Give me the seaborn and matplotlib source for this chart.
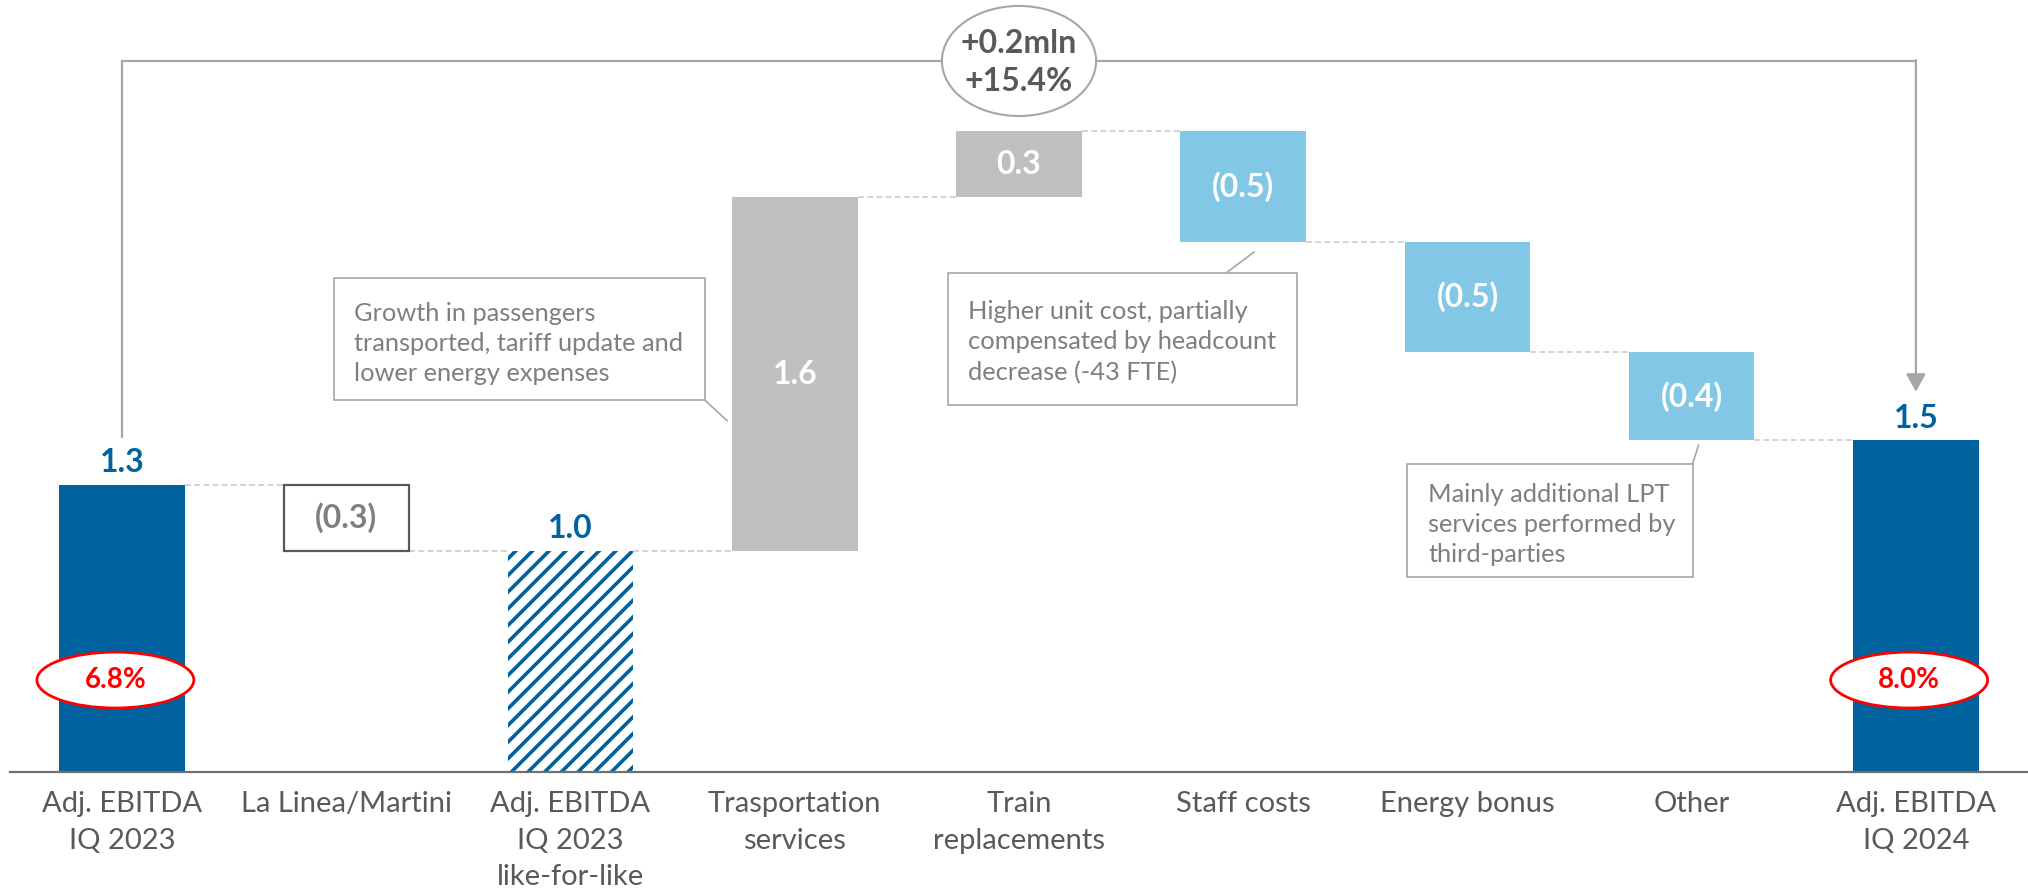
import numpy as np
import pandas as pd
import matplotlib
matplotlib.use("Agg")
import matplotlib.pyplot as plt
import seaborn as sns
from matplotlib.patches import Ellipse, Rectangle

# ---------------- data ----------------
categories = ["Adj. EBITDA\nIQ 2023", "La Linea/Martini", "Adj. EBITDA\nIQ 2023\nlike-for-like",
              "Trasportation\nservices", "Train\nreplacements", "Staff costs", "Energy bonus",
              "Other", "Adj. EBITDA\nIQ 2024"]
values = [1.3, -0.3, 1.0, 1.6, 0.3, -0.5, -0.5, -0.4, 1.5]
kinds = ["total", "delta", "total", "delta", "delta", "delta", "delta", "delta", "total"]
value_labels = ["1.3", "(0.3)", "1.0", "1.6", "0.3", "(0.5)", "(0.5)", "(0.4)", "1.5"]
margin_labels = ["6.8%", "8.0%"]
margin_bars = [0, 8]
bridge_labels = ["+0.2mln", "+15.4%"]
notes = ["Growth in passengers\ntransported, tariff update and\nlower energy expenses",
         "Higher unit cost, partially\ncompensated by headcount\ndecrease (-43 FTE)",
         "Mainly additional LPT\nservices performed by\nthird-parties"]

# ---------------- style ----------------
DARK_BLUE = "#00629F"
LIGHT_BLUE = "#83C7E6"
GREY_BAR = "#BFBFBF"
TXT = "#595959"
NOTE_TXT = "#7F7F7F"
LINE_GREY = "#A6A6A6"

sns.set_style("white")
plt.rcParams["font.family"] = ["Lato", "DejaVu Sans"]
plt.rcParams["hatch.linewidth"] = 2.6

# running totals -> bottoms / tops
bottoms, tops, after = [], [], []
run = 0.0
for v, k in zip(values, kinds):
    if k == "total":
        b, t = 0.0, v
        run = v
    else:
        b, t = min(run, run + v), max(run, run + v)
        run = run + v
    bottoms.append(b)
    tops.append(t)
    after.append(run)

df = pd.DataFrame({"cat": categories, "top": tops, "bottom": bottoms})
bar_colors = [DARK_BLUE, "white", "white", GREY_BAR, GREY_BAR, LIGHT_BLUE, LIGHT_BLUE, LIGHT_BLUE, DARK_BLUE]

W, H = 2028, 894
fig = plt.figure(figsize=(W / 100, H / 100), dpi=100)
ax = fig.add_axes([10 / W, 122 / H, 2018 / W, 772 / H])

BW = 0.56
sns.barplot(data=df, x="cat", y="top", hue="cat", palette=bar_colors, width=BW,
            saturation=1, legend=False, ax=ax, zorder=2)

for i, p in enumerate(ax.patches[:len(categories)]):
    p.set_y(bottoms[i])
    p.set_height(tops[i] - bottoms[i])
    p.set_linewidth(0)
    if i == 1:
        p.set_facecolor("white")
        p.set_edgecolor("#595959")
        p.set_linewidth(1.6)
    if i == 2:
        p.set_facecolor("white")
        p.set_edgecolor(DARK_BLUE)
        p.set_hatch("//")
        p.set_linewidth(0)

ax.set_xlim(-0.5, 8.5)
ax.set_ylim(0, 3.493)
ax.set_xlabel("")
ax.set_ylabel("")
ax.set_yticks([])
for s in ["left", "right", "top"]:
    ax.spines[s].set_visible(False)
ax.spines["bottom"].set_color("#6F6F6F")
ax.spines["bottom"].set_linewidth(1.6)
ax.set_xticks(range(len(categories)))
ax.set_xticklabels(categories, fontsize=21, color=TXT, linespacing=1.5, va="top")
ax.tick_params(axis="x", length=0, pad=14)

# connectors
for i in range(len(categories) - 1):
    ax.plot([i + BW / 2, i + 1 - BW / 2], [after[i], after[i]], color="#C8C8C8",
            lw=1.1, ls=(0, (4, 2)), zorder=1)

# value labels
for i, lab in enumerate(value_labels):
    if kinds[i] == "total":
        ax.annotate(lab, (i, tops[i]), xytext=(0, 9), textcoords="offset points",
                    ha="center", va="baseline", fontsize=23, fontweight="bold", color=DARK_BLUE)
    else:
        col = NOTE_TXT if i == 1 else "white"
        ax.text(i, (tops[i] + bottoms[i]) / 2, lab, ha="center", va="center",
                fontsize=23, fontweight="bold", color=col, zorder=4)

# margin ellipses
for lab, b in zip(margin_labels, margin_bars):
    e = Ellipse((b - 0.03, 0.416), width=0.70, height=0.253, facecolor="white",
                edgecolor="#FF0000", lw=2.0, zorder=5)
    ax.add_patch(e)
    ax.text(b - 0.03, 0.416, lab, ha="center", va="center", fontsize=20,
            fontweight="bold", color="#FF0000", zorder=6)

# bridge bracket
y_br = 3.217
ax.plot([0, 0, 8], [1.516, y_br, y_br], color=LINE_GREY, lw=1.6, zorder=1,
        solid_joinstyle="miter")
ax.annotate("", xy=(8, 1.72), xytext=(8, y_br + 0.004),
            arrowprops=dict(arrowstyle="-|>,head_length=0.55,head_width=0.3",
                            color=LINE_GREY, lw=1.6, mutation_scale=20,
                            shrinkA=0, shrinkB=0), zorder=1)
ax.add_patch(Ellipse((4, y_br), width=0.6875, height=0.498, facecolor="white",
                     edgecolor=LINE_GREY, lw=1.5, zorder=3))
ax.text(4, 3.21, "\n".join(bridge_labels), ha="center", va="center", fontsize=23,
        fontweight="bold", color=TXT, linespacing=1.4, zorder=4)

# note boxes: (x0, x1, y0, y1), text x, text y, leader
boxes = [((0.946, 2.598, 1.683, 2.235), 1.036, 1.94, [(2.598, 2.70), (1.683, 1.588)]),
         ((3.683, 5.241, 1.661, 2.258), 3.772, 1.945, [(4.924, 5.049), (2.258, 2.353)]),
         ((5.732, 7.004, 0.882, 1.394), 5.826, 1.12, [(7.004, 7.031), (1.394, 1.48)])]
for note, (rect, tx, ty, leader) in zip(notes, boxes):
    x0, x1, y0, y1 = rect
    ax.add_patch(Rectangle((x0, y0), x1 - x0, y1 - y0, facecolor="white",
                           edgecolor=LINE_GREY, lw=1.2, zorder=3))
    ax.plot(leader[0], leader[1], color=LINE_GREY, lw=1.2, zorder=3)
    ax.text(tx, ty, note, ha="left", va="center", fontsize=18.3, color=NOTE_TXT,
            linespacing=1.38, zorder=4)

fig.savefig("out.png", dpi=100, facecolor="white")
